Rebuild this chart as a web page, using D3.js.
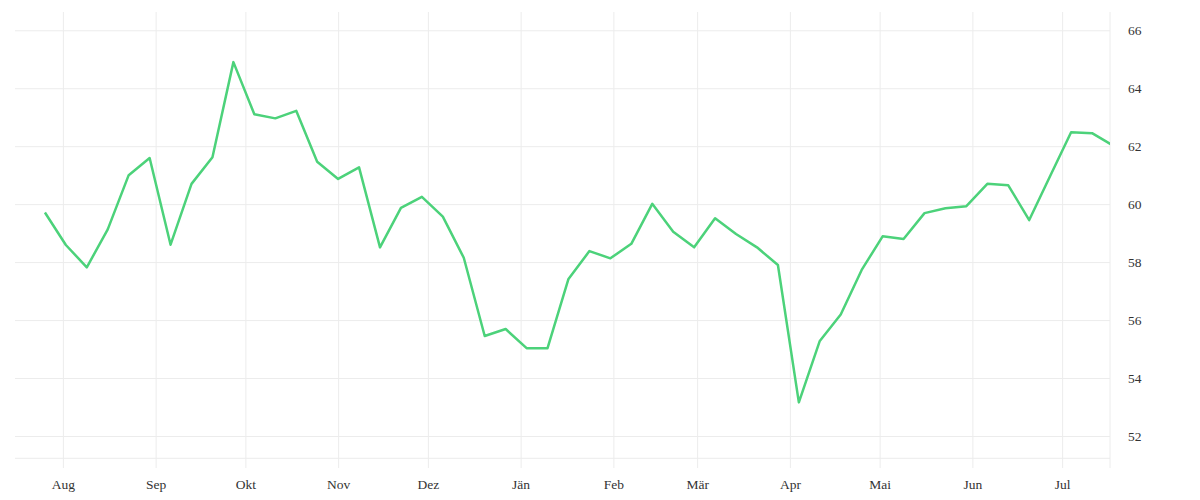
<!DOCTYPE html>
<html>
<head>
<meta charset="utf-8">
<script src="https://cdn.jsdelivr.net/npm/d3@7"></script>
<style>
  body { margin: 0; background: #fff; }
  svg { display: block; }
  .tick text { font-family: 'Liberation Serif', serif; font-size: 13.5px; fill: #333; }
</style>
</head>
<body>
<svg id="chart" width="1200" height="500"></svg>
<script>
// weekly values, first week starting 2020-07-26
const startDate = '2020-07-26';
const values = [
  59.71, 58.59, 57.82, 59.13, 61.00, 61.59, 58.60, 60.70, 61.62, 64.90,
  63.10, 62.96, 63.22, 61.46, 60.87, 61.27, 58.51, 59.87, 60.25, 59.57,
  58.15, 55.45, 55.69, 55.03, 55.03, 57.42, 58.38, 58.13, 58.63, 60.01,
  59.05, 58.51, 59.51, 58.97, 58.51, 57.90, 53.16, 55.28, 56.19, 57.73,
  58.89, 58.80, 59.69, 59.86, 59.93, 60.70, 60.65, 59.45, 60.97, 62.48,
  62.45, 62.02
];
const monthLabels = ['Aug', 'Sep', 'Okt', 'Nov', 'Dez', 'Jän', 'Feb', 'Mär', 'Apr', 'Mai', 'Jun', 'Jul'];
const yTicks = [52, 54, 56, 58, 60, 62, 64, 66];

const parse = d3.timeParse('%Y-%m-%d');
const start = parse(startDate);
const data = values.map((v, i) => ({ date: d3.timeDay.offset(start, i * 7), value: v }));

// plot bounds
const bounds = { left: 15, right: 1110, top: 12, bottom: 458.3, tickEnd: 468 };

const svg = d3.select('#chart');

const xScale = d3.scaleTime()
  .domain([parse('2020-07-16'), parse('2021-07-17')])
  .range([bounds.left, bounds.right]);

const yScale = d3.scaleLinear()
  .domain([51.23, 66.63])
  .range([bounds.bottom, bounds.top]);

const months = d3.timeMonth.range(parse('2020-08-01'), parse('2021-07-02'));

// vertical grid + month labels
const xAxis = d3.axisBottom(xScale)
  .tickValues(months)
  .tickSize(bounds.tickEnd - bounds.top)
  .tickPadding(11)
  .tickFormat((d, i) => monthLabels[i]);

svg.append('g')
  .attr('transform', `translate(0,${bounds.top})`)
  .call(xAxis)
  .call(g => g.select('.domain').remove())
  .call(g => g.selectAll('.tick line').attr('stroke', '#ececec'));

// right border line
svg.append('line')
  .attr('x1', bounds.right).attr('x2', bounds.right)
  .attr('y1', bounds.top).attr('y2', bounds.tickEnd)
  .attr('stroke', '#ececec');

// horizontal grid + labels on the right
const yAxis = d3.axisRight(yScale)
  .tickValues(yTicks)
  .tickSize(bounds.right - bounds.left)
  .tickPadding(18)
  .tickFormat(d3.format('d'));

svg.append('g')
  .attr('transform', `translate(${bounds.left},0)`)
  .call(yAxis)
  .call(g => g.select('.domain').remove())
  .call(g => g.selectAll('.tick line').attr('stroke', '#ececec'));

// baseline
svg.append('line')
  .attr('x1', bounds.left).attr('x2', bounds.right)
  .attr('y1', bounds.bottom).attr('y2', bounds.bottom)
  .attr('stroke', '#ececec');

svg.append('clipPath')
  .attr('id', 'clip')
  .append('rect')
  .attr('x', bounds.left).attr('y', bounds.top)
  .attr('width', bounds.right - bounds.left).attr('height', bounds.bottom - bounds.top);

const myLine = d3.line()
  .x(d => xScale(d.date))
  .y(d => yScale(d.value));

svg.append('path')
  .datum(data)
  .attr('clip-path', 'url(#clip)')
  .attr('d', myLine)
  .attr('fill', 'none')
  .attr('stroke', '#4cd27a')
  .attr('stroke-width', 2.5)
  .attr('stroke-linejoin', 'round');
</script>
</body>
</html>
